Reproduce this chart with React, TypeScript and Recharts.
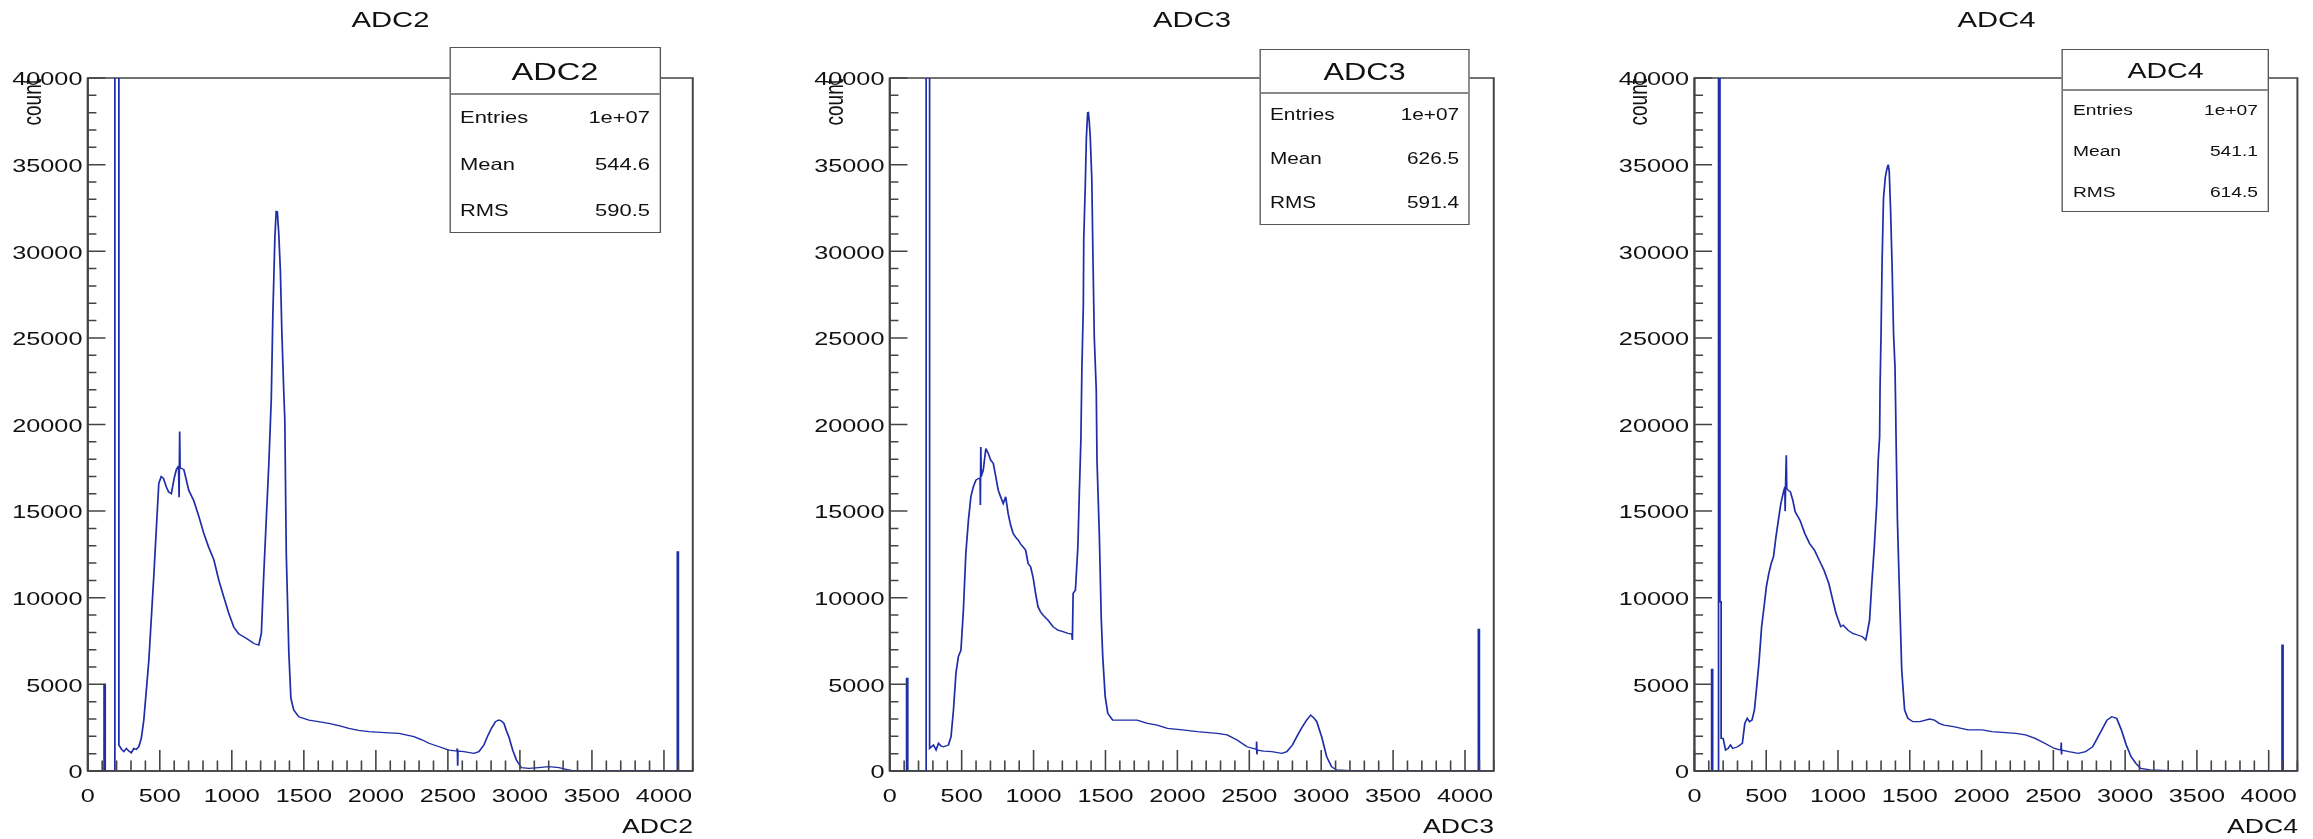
import React from "react";
import { LineChart, Line, XAxis, YAxis, ReferenceArea } from "recharts";

// ADC spectra: [ADC channel, counts]; repeated x = vertical edge of a narrow spike
const adc2Hist: [number, number][] = [
  [0, 0], [113, 0], [113, 5000], [121, 5000], [121, 0], [188, 0], [188, 60000], [216, 60000], [216, 1500], [235, 1250],
  [250, 1120], [268, 1300], [285, 1150], [302, 1050], [320, 1300], [337, 1250], [354, 1400], [372, 1900], [389, 2940], [406, 4600],
  [424, 6400], [441, 8800], [458, 11200], [476, 14000], [493, 16600], [510, 17000], [525, 16900], [545, 16400], [562, 16100], [580, 16000],
  [600, 16900], [615, 17400], [630, 17600], [634, 15800], [638, 19600], [641, 17500], [667, 17400], [684, 16800], [701, 16200], [736, 15600],
  [771, 14700], [806, 13700], [840, 12900], [875, 12200], [910, 11000], [944, 10050], [979, 9100], [1014, 8300], [1049, 7900], [1083, 7750],
  [1118, 7560], [1153, 7360], [1187, 7270], [1205, 7940], [1222, 11400], [1240, 14670], [1257, 17750], [1274, 21490], [1285, 26400], [1292, 28600],
  [1299, 30840], [1308, 32300], [1316, 32280], [1326, 31000], [1337, 28900], [1347, 25440], [1361, 21780], [1368, 20250], [1378, 12560], [1396, 6790],
  [1410, 4200], [1430, 3520], [1465, 3130], [1535, 2940], [1600, 2850], [1673, 2750], [1750, 2600], [1812, 2460], [1880, 2350], [1951, 2270],
  [2060, 2220], [2160, 2170], [2264, 1980], [2320, 1800], [2368, 1600], [2440, 1400], [2507, 1210], [2562, 1150], [2566, 1300], [2568, 300],
  [2570, 1150], [2611, 1115], [2680, 1020], [2715, 1115], [2750, 1500], [2775, 2000], [2802, 2460], [2830, 2850], [2854, 2940], [2870, 2900],
  [2889, 2750], [2905, 2350], [2923, 1980], [2950, 1200], [2976, 635], [3010, 190], [3062, 150], [3130, 200], [3201, 250], [3271, 190],
  [3330, 80], [3375, 10], [3800, 20], [4093, 10], [4093, 12650], [4100, 12650], [4100, 0], [4200, 0],
];

const adc3Hist: [number, number][] = [
  [0, 0], [117, 0], [117, 5350], [125, 5350], [125, 0], [253, 0], [253, 60000], [277, 60000], [277, 1300], [290, 1400],
  [304, 1500], [322, 1210], [339, 1600], [356, 1450], [374, 1400], [408, 1500], [426, 1980], [443, 3520], [460, 5630], [477, 6600],
  [495, 6980], [512, 9290], [529, 12560], [547, 14480], [564, 15830], [581, 16400], [599, 16790], [616, 16880], [628, 16900], [630, 15350],
  [633, 18700], [636, 17000], [650, 17360], [668, 18610], [685, 18330], [702, 17940], [720, 17750], [737, 17000], [754, 16210], [772, 15800],
  [789, 15440], [806, 15830], [823, 14870], [840, 14200], [858, 13710], [875, 13500], [893, 13330], [910, 13100], [927, 12940], [945, 12750],
  [962, 11980], [979, 11790], [996, 11210], [1014, 10250], [1031, 9480], [1048, 9190], [1066, 9000], [1100, 8710], [1135, 8330], [1169, 8130],
  [1204, 8040], [1239, 7940], [1266, 7900], [1270, 7560], [1275, 10250], [1291, 10440], [1308, 12940], [1318, 16020], [1329, 19100], [1336, 23230],
  [1346, 26890], [1349, 30740], [1360, 33920], [1367, 36530], [1376, 38000], [1381, 38010], [1387, 37500], [1394, 36630], [1405, 34120], [1412, 30160],
  [1422, 25060], [1436, 21970], [1441, 17940], [1457, 13710], [1471, 8710], [1481, 6600], [1498, 4290], [1516, 3330], [1550, 2940], [1654, 2940],
  [1720, 2940], [1792, 2750], [1860, 2650], [1931, 2460], [2035, 2370], [2138, 2270], [2277, 2170], [2346, 2080], [2415, 1790], [2484, 1400],
  [2550, 1250], [2551, 1700], [2553, 960], [2555, 1210], [2600, 1150], [2657, 1115], [2726, 1020], [2761, 1115], [2800, 1500], [2830, 1980],
  [2865, 2500], [2899, 2940], [2927, 3230], [2950, 3050], [2969, 2850], [3003, 1980], [3038, 830], [3072, 250], [3107, 60], [3200, 20],
  [3384, 0], [4093, 0], [4093, 8170], [4100, 8170], [4100, 0], [4200, 0],
];

const adc4Hist: [number, number][] = [
  [0, 0], [120, 0], [120, 5870], [127, 5870], [127, 0], [168, 0], [168, 60000], [178, 60000], [178, 9770], [186, 9770],
  [186, 1880], [200, 1880], [217, 1210], [234, 1300], [251, 1500], [267, 1300], [301, 1400], [334, 1600], [351, 2750], [368, 3040],
  [384, 2850], [401, 2940], [418, 3520], [434, 4870], [451, 6400], [468, 8330], [485, 9480], [501, 10630], [518, 11400], [535, 11980],
  [551, 12370], [568, 13520], [585, 14480], [602, 15440], [618, 16020], [630, 16400], [632, 15000], [635, 16500], [640, 18230], [643, 16300],
  [652, 16210], [668, 16120], [685, 15630], [702, 14960], [735, 14480], [769, 13710], [802, 13130], [836, 12750], [869, 12170], [902, 11600],
  [936, 10830], [969, 9670], [986, 9100], [1003, 8710], [1019, 8330], [1036, 8420], [1069, 8130], [1103, 7940], [1136, 7850], [1170, 7750],
  [1193, 7560], [1203, 7940], [1220, 8710], [1237, 11020], [1253, 12940], [1270, 15440], [1280, 17940], [1290, 19290], [1293, 22100], [1300, 25250],
  [1307, 29300], [1317, 33060], [1330, 34300], [1342, 34800], [1350, 35000], [1357, 34600], [1367, 32190], [1377, 29100], [1387, 25250], [1397, 23340],
  [1402, 20800], [1404, 19480], [1414, 14480], [1427, 10630], [1444, 5830], [1464, 3520], [1487, 3040], [1521, 2850], [1571, 2850], [1638, 3000],
  [1671, 2940], [1704, 2750], [1738, 2650], [1805, 2560], [1905, 2370], [2005, 2370], [2072, 2270], [2239, 2170], [2306, 2080], [2373, 1880],
  [2440, 1600], [2507, 1300], [2553, 1210], [2555, 1650], [2557, 950], [2559, 1210], [2607, 1115], [2674, 1020], [2724, 1115], [2774, 1400],
  [2824, 2170], [2874, 2940], [2907, 3130], [2941, 3040], [2974, 2370], [3008, 1500], [3041, 830], [3075, 440], [3108, 150], [3175, 60],
  [3300, 20], [3409, 0], [4093, 0], [4093, 7270], [4100, 7270], [4100, 0], [4200, 0],
];

const histNames = ["ADC2", "ADC3", "ADC4"];
const histData = [adc2Hist, adc3Hist, adc4Hist];
const statEntries = ["1e+07", "1e+07", "1e+07"];
const statMean = ["544.6", "626.5", "541.1"];
const statRms = ["590.5", "591.4", "614.5"];

const xTicks = Array.from({ length: 43 }, (_, i) => i * 100); // minor every 100, label every 500
const yTicks = Array.from({ length: 41 }, (_, i) => i * 1000); // minor every 1000, label every 5000

// the reference image is stretched sideways, so everything is drawn narrow and scaled in x
const STRETCH = 1.33;
const H = 839;
const PLOT_TOP = 78;
const PLOT_BOTTOM = 771;
const Y_AXIS_W = 62;
const AXIS = "#444";
const BLUE = "#1f2ea8";
const FONT = '"Liberation Sans", Arial, Helvetica, sans-serif';

// page positions (px) of each frame and stats box
const layout = [
  { plotL: 88, plotR: 693, box: { l: 449, r: 661, t: 47, b: 233, split: 94 } },
  { plotL: 890, plotR: 1494, box: { l: 1259, r: 1470, t: 49, b: 225, split: 93 } },
  { plotL: 1695, plotR: 2298, box: { l: 2062, r: 2269, t: 49, b: 212, split: 90 } },
];

const u = (px: number) => px / STRETCH;

function XTick(props: any) {
  const { x, y, payload } = props;
  const major = payload.value % 500 === 0;
  return (
    <g>
      <line x1={x} x2={x} y1={y} y2={y - (major ? 21 : 10.5)} stroke={AXIS} strokeWidth={1.2} />
      {major && (
        <text x={x} y={y + 25} textAnchor="middle" dominantBaseline="central" fontSize={19} fill="#111" fontFamily={FONT}>
          {payload.value}
        </text>
      )}
    </g>
  );
}

function YTick(props: any) {
  const { x, y, payload } = props;
  const major = payload.value % 5000 === 0;
  return (
    <g>
      <line x1={x} x2={x + (major ? 13.3 : 6.5)} y1={y} y2={y} stroke={AXIS} strokeWidth={1.5} />
      {major && (
        <text x={x - 4} y={y + 1} textAnchor="end" dominantBaseline="central" fontSize={19} fill="#111" fontFamily={FONT}>
          {payload.value}
        </text>
      )}
    </g>
  );
}

function Txt({ x, y, size, anchor = "start", children }: any) {
  const base: React.CSSProperties = {
    position: "absolute",
    top: y - 50,
    height: 100,
    lineHeight: "100px",
    fontSize: size,
    whiteSpace: "nowrap",
  };
  if (anchor === "middle") return <div style={{ ...base, left: x - 300, width: 600, textAlign: "center" }}>{children}</div>;
  if (anchor === "end") return <div style={{ ...base, left: x - 600, width: 600, textAlign: "right" }}>{children}</div>;
  return <div style={{ ...base, left: x }}>{children}</div>;
}

function Panel({ i }: { i: number }) {
  const lay = layout[i];
  const data = histData[i].map(([adc, count]) => ({ adc, count }));
  const plotL = u(lay.plotL);
  const plotW = u(lay.plotR - lay.plotL);
  const chartW = Y_AXIS_W + plotW + 12;
  const b = lay.box;
  const k = (b.b - b.t) / 186;
  const rowH = (b.b - b.split) / 3;
  const rows = [
    ["Entries", statEntries[i]],
    ["Mean", statMean[i]],
    ["RMS", statRms[i]],
  ];
  return (
    <>
      <div style={{ position: "absolute", left: plotL - Y_AXIS_W, top: 0 }}>
        <LineChart width={chartW} height={H} data={data} margin={{ top: PLOT_TOP, right: 12, bottom: 0, left: 0 }}>
          <XAxis
            type="number"
            dataKey="adc"
            domain={[0, 4200]}
            allowDataOverflow
            ticks={xTicks}
            interval={0}
            height={H - PLOT_BOTTOM}
            tickSize={0}
            tickMargin={0}
            tickLine={false}
            tick={<XTick />}
            axisLine={{ stroke: AXIS, strokeWidth: 1.6 }}
          />
          <YAxis
            type="number"
            domain={[0, 40000]}
            allowDataOverflow
            ticks={yTicks}
            interval={0}
            width={Y_AXIS_W}
            tickSize={0}
            tickMargin={0}
            tickLine={false}
            tick={<YTick />}
            axisLine={{ stroke: AXIS, strokeWidth: 1.4 }}
          />
          <ReferenceArea x1={0} x2={4200} y1={0} y2={40000} fill="none" stroke={AXIS} strokeWidth={1.5} />
          <Line
            type="linear"
            dataKey="count"
            stroke={BLUE}
            strokeWidth={1.3}
            dot={false}
            activeDot={false}
            isAnimationActive={false}
          />
        </LineChart>
      </div>

      <Txt x={u((lay.plotL + lay.plotR) / 2)} y={20} size={22} anchor="middle">
        {histNames[i]}
      </Txt>
      <Txt x={u(lay.plotR)} y={826} size={20} anchor="end">
        {histNames[i]}
      </Txt>
      <div
        style={{
          position: "absolute",
          left: u(lay.plotL - 56),
          top: 79,
          fontSize: 19,
          lineHeight: 1,
          whiteSpace: "nowrap",
          transformOrigin: "0 0",
          transform: "rotate(-90deg) translate(-100%, -50%)",
        }}
      >
        count
      </div>

      <div
        style={{
          position: "absolute",
          left: u(b.l),
          top: b.t,
          width: u(b.r - b.l),
          height: b.b - b.t,
          boxSizing: "border-box",
          border: "1.5px solid #555",
          background: "#fff",
        }}
      />
      <div
        style={{
          position: "absolute",
          left: u(b.l) + 1,
          top: b.split - 1,
          width: u(b.r - b.l) - 2,
          height: 0,
          borderTop: "2px solid #888",
        }}
      />
      <Txt x={u((b.l + b.r) / 2)} y={(b.t + b.split) / 2 + 1} size={24.5 * k} anchor="middle">
        {histNames[i]}
      </Txt>
      {rows.map(([label, value], r) => (
        <React.Fragment key={label}>
          <Txt x={u(b.l + 11)} y={b.split + rowH * (r + 0.5)} size={16.5 * k}>
            {label}
          </Txt>
          <Txt x={u(b.r - 11)} y={b.split + rowH * (r + 0.5)} size={16.5 * k} anchor="end">
            {value}
          </Txt>
        </React.Fragment>
      ))}
    </>
  );
}

export default function App() {
  return (
    <div
      style={{
        position: "absolute",
        left: 0,
        top: 0,
        width: 2313,
        height: H,
        background: "#fff",
        overflow: "hidden",
        fontFamily: FONT,
        color: "#111",
      }}
    >
      <div
        style={{
          position: "absolute",
          left: 0,
          top: 0,
          width: u(2313),
          height: H,
          transform: `scaleX(${STRETCH})`,
          transformOrigin: "0 0",
        }}
      >
        {layout.map((_, i) => (
          <Panel key={i} i={i} />
        ))}
      </div>
    </div>
  );
}
